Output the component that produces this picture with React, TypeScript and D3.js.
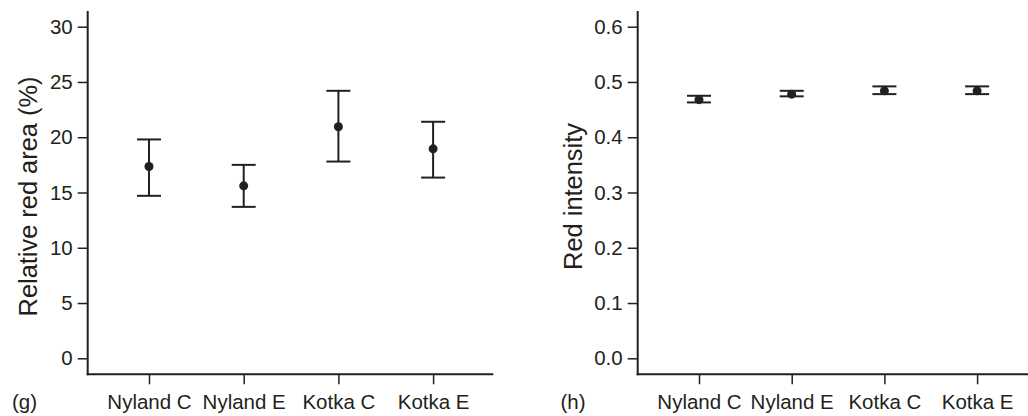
import React, { useEffect, useRef } from "react";
import * as d3 from "d3";

const categories = ["Nyland C", "Nyland E", "Kotka C", "Kotka E"];

// panel (g): relative red area (%)
const areaMean = [17.35, 15.6, 20.95, 18.95];
const areaLow = [14.7, 13.7, 17.8, 16.35];
const areaHigh = [19.8, 17.5, 24.2, 21.4];
const areaTicks = [0, 5, 10, 15, 20, 25, 30];

// panel (h): red intensity
const intensityMean = [0.468, 0.478, 0.484, 0.484];
const intensityLow = [0.463, 0.474, 0.478, 0.478];
const intensityHigh = [0.475, 0.484, 0.492, 0.492];
const intensityTicks = [0, 0.1, 0.2, 0.3, 0.4, 0.5, 0.6];

const ink = "#231f20";
const font = "'Liberation Sans', Arial, Helvetica, sans-serif";

const panels = [
  {
    tag: "(g)",
    title: "Relative red area (%)",
    mean: areaMean,
    low: areaLow,
    high: areaHigh,
    ticks: areaTicks,
    max: 30,
    fmt: d3.format("d"),
    left: 87.7,
    right: 493.3,
    tagX: 12,
    titleX: 37,
  },
  {
    tag: "(h)",
    title: "Red intensity",
    mean: intensityMean,
    low: intensityLow,
    high: intensityHigh,
    ticks: intensityTicks,
    max: 0.6,
    fmt: d3.format(".1f"),
    left: 637.7,
    right: 1040,
    tagX: 560.5,
    titleX: 582,
  },
];

const App = () => {
  const svgRef = useRef();

  useEffect(() => {
    const svg = d3.select(svgRef.current);
    svg.selectAll("*").remove();

    const top = 11;
    const base = 374.3;

    panels.forEach((p) => {
      const g = svg.append("g");

      const y = d3.scaleLinear().domain([0, p.max]).range([358.3, 26.7]);
      const x = d3
        .scalePoint()
        .domain(categories)
        .range([p.left + 61.3, p.left + 61.3 + 3 * (p === panels[0] ? 94.7 : 92.7)]);

      // y axis
      const ya = g
        .append("g")
        .attr("transform", `translate(${p.left},0)`)
        .call(d3.axisLeft(y).tickValues(p.ticks).tickFormat(p.fmt).tickSize(10).tickPadding(5));
      ya.select(".domain").remove();
      ya.selectAll(".tick line").attr("stroke", ink).attr("stroke-width", 1.5);
      ya.selectAll(".tick text")
        .attr("fill", ink)
        .style("font-family", font)
        .style("font-size", "20.5px");

      // x axis
      const xa = g
        .append("g")
        .attr("transform", `translate(0,${base})`)
        .call(d3.axisBottom(x).tickSize(10).tickPadding(10));
      xa.select(".domain").remove();
      xa.selectAll(".tick line").attr("stroke", ink).attr("stroke-width", 1.5);
      xa.selectAll(".tick text")
        .attr("fill", ink)
        .attr("dy", "0.71em")
        .style("font-family", font)
        .style("font-size", "20.5px");

      // axis lines
      g.append("line")
        .attr("x1", p.left)
        .attr("x2", p.left)
        .attr("y1", top)
        .attr("y2", base + 1)
        .attr("stroke", ink)
        .attr("stroke-width", 2);
      g.append("line")
        .attr("x1", p.left - 1)
        .attr("x2", p.right)
        .attr("y1", base)
        .attr("y2", base)
        .attr("stroke", ink)
        .attr("stroke-width", 2);

      // error bars
      const rows = categories.map((c, i) => ({
        c,
        m: p.mean[i],
        lo: p.low[i],
        hi: p.high[i],
      }));
      const eb = g.append("g").attr("stroke", ink).attr("stroke-width", 2);
      rows.forEach((d) => {
        const cx = x(d.c);
        eb.append("line")
          .attr("x1", cx)
          .attr("x2", cx)
          .attr("y1", y(d.hi))
          .attr("y2", y(d.lo));
        [d.hi, d.lo].forEach((v) => {
          eb.append("line")
            .attr("x1", cx - 12)
            .attr("x2", cx + 12)
            .attr("y1", y(v))
            .attr("y2", y(v));
        });
      });
      g.selectAll("circle.pt")
        .data(rows)
        .enter()
        .append("circle")
        .attr("class", "pt")
        .attr("cx", (d) => x(d.c))
        .attr("cy", (d) => y(d.m))
        .attr("r", 4.5)
        .attr("fill", ink);

      // axis title
      g.append("text")
        .attr("transform", `translate(${p.titleX},196.5) rotate(-90)`)
        .attr("text-anchor", "middle")
        .attr("fill", ink)
        .style("font-family", font)
        .style("font-size", "25.4px")
        .text(p.title);

      // panel tag
      g.append("text")
        .attr("x", p.tagX)
        .attr("y", 409)
        .attr("fill", ink)
        .style("font-family", font)
        .style("font-size", "20.5px")
        .text(p.tag);
    });
  }, []);

  return (
    <svg
      ref={svgRef}
      width={1028}
      height={416}
      style={{ position: "absolute", left: 0, top: 0, background: "#fff" }}
    ></svg>
  );
};

export default App;
